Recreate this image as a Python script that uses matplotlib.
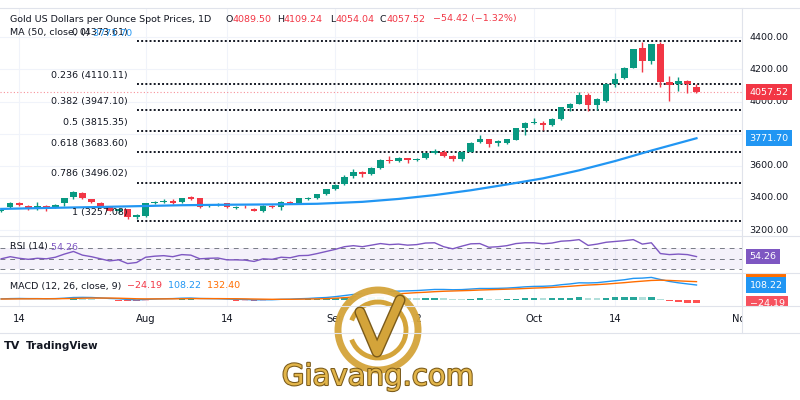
import numpy as np
import pandas as pd
import matplotlib
matplotlib.use("Agg")
import matplotlib.pyplot as plt
import matplotlib.patches as mpatches
import matplotlib.patheffects as pe

W, H = 800, 400

TEXT = "#131722"
GREEN = "#089981"
RED = "#f23645"
BLUE = "#2196f3"
PURPLE = "#7e57c2"
ORANGE = "#ff6d00"
GRID = "#f0f3fa"
SEP = "#e0e3eb"
GOLD = "#d4a43a"

# daily bars (weekdays), 10 Jul - 27 Oct 2025
dates = pd.bdate_range("2025-07-10", "2025-10-27")

opens = [3318, 3342, 3371, 3352, 3336, 3350, 3344, 3366, 3405, 3434,
         3392, 3371, 3346, 3320, 3330, 3284, 3290, 3367, 3376, 3382,
         3373, 3404, 3398, 3352, 3358, 3367, 3340, 3343, 3332, 3319,
         3350, 3342, 3377, 3371, 3396, 3398, 3423, 3454, 3485, 3537,
         3560, 3549, 3584, 3638, 3630, 3646, 3634, 3646, 3682, 3688,
         3662, 3641, 3688, 3750, 3765, 3740, 3744, 3761, 3834, 3866,
         3868, 3854, 3890, 3962, 3985, 4041, 3979, 4005, 4110, 4145,
         4211, 4331, 4254, 4356, 4124, 4108, 4125, 4089.50]
highs = [3332, 3372, 3376, 3358, 3372, 3354, 3362, 3402, 3442, 3440,
         3396, 3376, 3350, 3336, 3334, 3300, 3370, 3382, 3392, 3392,
         3402, 3412, 3402, 3362, 3368, 3370, 3350, 3354, 3338, 3354,
         3354, 3380, 3380, 3400, 3404, 3425, 3456, 3484, 3540, 3580,
         3566, 3590, 3640, 3664, 3652, 3650, 3650, 3682, 3706, 3698,
         3666, 3690, 3748, 3791, 3768, 3760, 3768, 3836, 3872, 3895,
         3876, 3896, 3966, 3990, 4060, 4056, 4022, 4116, 4179, 4218,
         4330, 4373, 4360, 4373, 4162, 4152, 4136, 4109.24]
lows = [3310, 3336, 3350, 3328, 3325, 3318, 3338, 3352, 3395, 3392,
        3366, 3342, 3316, 3308, 3272, 3270, 3284, 3360, 3366, 3364,
        3368, 3390, 3340, 3344, 3352, 3336, 3334, 3336, 3316, 3314,
        3336, 3326, 3360, 3364, 3390, 3394, 3420, 3450, 3482, 3526,
        3530, 3544, 3580, 3620, 3626, 3620, 3630, 3642, 3676, 3652,
        3628, 3632, 3684, 3740, 3718, 3722, 3736, 3758, 3792, 3858,
        3820, 3846, 3886, 3940, 3982, 3944, 3948, 4000, 4090, 4140,
        4206, 4186, 4236, 4089, 4004, 4066, 4052, 4054.04]
closes = [3326, 3366, 3356, 3337, 3350, 3341, 3355, 3398, 3437, 3398,
          3373, 3346, 3320, 3330, 3284, 3294, 3367, 3377, 3381, 3371,
          3398, 3394, 3346, 3356, 3361, 3342, 3342, 3341, 3319, 3350,
          3342, 3377, 3367, 3398, 3399, 3423, 3454, 3481, 3532, 3564,
          3548, 3586, 3636, 3630, 3646, 3634, 3642, 3678, 3692, 3661,
          3640, 3688, 3744, 3765, 3734, 3755, 3765, 3834, 3865, 3870,
          3854, 3890, 3964, 3985, 4041, 3979, 4016, 4110, 4141, 4207,
          4327, 4254, 4356, 4124, 4100, 4125, 4111.94, 4057.52]

# MA 50 at a few bars
ma_idx = [0, 5, 10, 15, 20, 25, 30, 35, 40, 44, 48, 52, 56, 60, 64, 68, 72, 75, 77]
ma_val = [3332, 3338, 3343, 3349, 3355, 3358, 3360, 3364, 3376, 3394,
          3418, 3448, 3484, 3522, 3572, 3630, 3695, 3741, 3771.70]

# Fibonacci retracement
fib_ratios = [0, 0.236, 0.382, 0.5, 0.618, 0.786, 1]
fib_prices = [4373.61, 4110.11, 3947.10, 3815.35, 3683.60, 3496.02, 3257.08]
fib_start = 15

rsi = [50, 54, 51, 49, 51, 50, 53, 59, 64, 57,
       54, 50, 46, 48, 41, 43, 53, 55, 56, 54,
       58, 57, 50, 51, 51.5, 48, 48, 47.5, 45, 50,
       49, 53, 52, 56, 56.5, 60, 64, 68, 73, 75,
       73, 76, 79, 77, 78, 76, 77, 80, 80.5, 73,
       69, 74, 78.5, 79, 72, 73, 75, 79, 80.5, 80.5,
       78.5, 80, 83.5, 84.5, 86.5, 75.5, 78, 81.5, 83, 84.5,
       86.5, 78, 80.5, 60, 58, 59, 58, 54.26]

macd = [8, 10, 11, 10, 10, 9, 10, 13, 18, 19,
        18, 15, 11, 9, 4, 1, 4, 7, 9, 10,
        13, 14, 11, 10, 9, 7, 5, 4, 1, 2,
        2, 5, 6, 9, 11, 15, 18, 24, 32, 40,
        44, 50, 57, 61, 64, 66, 68, 72, 76, 76,
        74, 75, 79, 83, 83, 84, 86, 90, 95, 98,
        99, 102, 110, 116, 124, 123, 125, 132, 139, 146,
        156, 158, 163, 148, 134, 124, 116, 108.216]
signal = [7, 7.5, 8, 8.5, 9, 9, 9, 10, 11, 13,
          14, 14, 14, 13, 11, 9, 8, 8, 8, 8.5,
          9, 10, 10, 10, 10, 9.5, 9, 8, 7, 6,
          5, 5, 5, 6, 7, 8, 10, 13, 17, 22,
          26, 31, 36, 41, 45, 49, 53, 56, 60, 63,
          65, 67, 69, 72, 74, 76, 78, 80, 83, 86,
          88, 91, 95, 99, 104, 108, 111, 115, 120, 125,
          131, 136, 141, 143, 141, 138, 135, 132.404]

# 3800 sits under the MA tag on the price scale, so it is not listed
price_ticks = [3200, 3400, 3600, 4000, 4200, 4400]
grid_ticks = [3200, 3400, 3600, 3800, 4000, 4200, 4400]
tick_dates = ["2025-07-14", "2025-08-01", "2025-08-14", "2025-09-01",
              "2025-09-12", "2025-10-01", "2025-10-14", "2025-11-03"]
tick_labels = ["14", "Aug", "14", "Sep", "12", "Oct", "14", "Nov"]


fig = plt.figure(figsize=(8, 4), dpi=100)
fig.patch.set_facecolor("white")


def px_axes(x0, y0, x1, y1, **kw):
    a = fig.add_axes([x0 / W, 1 - y1 / H, (x1 - x0) / W, (y1 - y0) / H], **kw)
    a.set_axis_off()
    return a


ax = px_axes(0, 8, 742, 236)
ax_rsi = px_axes(0, 236, 742, 273, sharex=ax)
ax_macd = px_axes(0, 273, 742, 306, sharex=ax)
ax_time = px_axes(0, 306, 742, 333, sharex=ax)
sc_main = px_axes(742, 8, 800, 236, sharey=ax)
sc_rsi = px_axes(742, 236, 800, 273, sharey=ax_rsi)
sc_macd = px_axes(742, 273, 800, 306, sharey=ax_macd)
ov = px_axes(0, 0, 800, 400)
ov.set_xlim(0, W)
ov.set_ylim(H, 0)
ov.set_zorder(10)

ax.set_xlim(-0.133, 82.04)
ax.set_ylim(3163.5, 4582)
ax_rsi.set_ylim(23, 93.4)
ax_macd.set_ylim(-43.3, 194.8)
for s in (sc_main, sc_rsi, sc_macd):
    s.set_xlim(0, 1)

x = np.arange(len(dates))
o, h, l, c = (np.array(v, dtype=float) for v in (opens, highs, lows, closes))

all_days = pd.bdate_range("2025-07-10", "2025-11-14")
tick_pos = all_days.get_indexer(pd.to_datetime(tick_dates))

# grid
for v in grid_ticks:
    ax.axhline(v, color=GRID, lw=0.8, zorder=0)
for t in tick_pos:
    for a in (ax, ax_rsi, ax_macd):
        a.axvline(t, color=GRID, lw=0.8, zorder=0)

# fibonacci levels
for r, p in zip(fib_ratios, fib_prices):
    ax.plot([fib_start, 83], [p, p], color=TEXT, lw=1.4, ls=(0, (1, 1.15)), zorder=1)
    ax.annotate("{:g} ({:.2f})".format(r, p), xy=(fib_start - 1, p), xytext=(0, 3),
                textcoords="offset points", ha="right", va="bottom",
                fontsize=6.8, color=TEXT, zorder=3)

# last price line
ax.axhline(c[-1], color=RED, lw=0.8, ls=(0, (1, 2)), alpha=0.55, zorder=1)

# candles
up = c >= o
col = np.where(up, GREEN, RED)
ax.vlines(x, l, h, colors=col, lw=1, zorder=2)
body = np.maximum(np.abs(c - o), 5)
ax.bar(x, body, bottom=np.minimum(o, c), width=0.72, color=col, lw=0, zorder=2)

# MA 50
ax.plot(ma_idx, ma_val, color=BLUE, lw=1.6, zorder=2)

# RSI
ax_rsi.axhspan(30, 70, color=PURPLE, alpha=0.08, lw=0)
for lv in (70, 50, 30):
    ax_rsi.axhline(lv, color="#787b86", lw=0.7, ls=(0, (5, 5)))
ax_rsi.plot(x, rsi, color=PURPLE, lw=1)

# MACD
m = np.array(macd)
sg = np.array(signal)
hist = m - sg
prev = np.concatenate([[hist[0]], hist[:-1]])
hcol = np.where(hist >= 0,
                np.where(hist >= prev, "#26a69a", "#b2dfdb"),
                np.where(hist < prev, "#ff5252", "#ffcdd2"))
ax_macd.bar(x, hist, width=0.72, color=hcol, lw=0)
ax_macd.plot(x, m, color=BLUE, lw=1)
ax_macd.plot(x, sg, color=ORANGE, lw=1)

# time axis labels
for t, lab in zip(tick_pos, tick_labels):
    ax_time.text(t, 0.5, lab, ha="center", va="center", fontsize=7.2,
                 color=TEXT, clip_on=True)

# right price scale
for v in price_ticks:
    sc_main.text(0.13, v, "{:.2f}".format(v), ha="left", va="center",
                 fontsize=6.8, color=TEXT, clip_on=True)


def tag(axis, y, s, fc, dy=0):
    return axis.annotate(s, xy=(0.13, y), xytext=(0, dy), textcoords="offset points",
                         ha="left", va="center", fontsize=6.8, color="white",
                         clip_on=True, annotation_clip=False, zorder=5,
                         bbox=dict(boxstyle="square,pad=0.35", fc=fc, ec="none"))


tag(sc_main, c[-1], "{:.2f}".format(c[-1]), RED)
tag(sc_main, ma_val[-1], "{:.2f}".format(ma_val[-1]), BLUE)
tag(sc_rsi, rsi[-1], "{:.2f}".format(rsi[-1]), PURPLE)
tag(sc_macd, sg[-1], "{:.2f}".format(sg[-1]), ORANGE, dy=7)
tag(sc_macd, m[-1], "{:.2f}".format(m[-1]), BLUE)
tag(sc_macd, hist[-1], "\u2212{:.2f}".format(abs(hist[-1])), "#f7525f")


# legends
def chain(x0, y0, parts, size=6.8):
    t = ov.text(x0, y0, parts[0][0], color=parts[0][1], fontsize=size, va="center", ha="left")
    for s, colr in parts[1:]:
        t = ov.annotate(s, xy=(1, 0.5), xycoords=t, va="center", ha="left",
                        color=colr, fontsize=size)
    return t


chg = c[-1] - c[-2]
pct = chg / c[-2] * 100
chain(10, 19, [("Gold US Dollars per Ounce Spot Prices, 1D", TEXT)])
chain(225, 19, [("O", TEXT), ("{:.2f}".format(o[-1]), RED)])
chain(277, 19, [("H", TEXT), ("{:.2f}".format(h[-1]), RED)])
chain(330, 19, [("L", TEXT), ("{:.2f}".format(l[-1]), RED)])
chain(380, 19, [("C", TEXT), ("{:.2f}".format(c[-1]), RED)])
chain(433, 19, [("\u2212{:.2f} (\u2212{:.2f}%)".format(abs(chg), abs(pct)), RED)])
chain(10, 33, [("MA (50, close, 0)", TEXT), (" {:.2f}".format(ma_val[-1]), BLUE)])
chain(10, 247, [("RSI (14)", TEXT), (" {:.2f}".format(rsi[-1]), PURPLE)])
chain(10, 286, [("MACD (12, 26, close, 9)", TEXT),
                ("  \u2212{:.2f}".format(abs(hist[-1])), RED),
                ("  {:.2f}".format(m[-1]), BLUE),
                ("  {:.2f}".format(sg[-1]), ORANGE)])

# pane separators
for yy in (8, 236, 273, 306, 333):
    ov.plot([0, W], [yy, yy], color=SEP, lw=0.8)
ov.plot([742, 742], [8, 333], color=SEP, lw=0.8)

# TradingView logo
ov.text(4, 346, "TV", fontsize=8, fontweight="bold", color=TEXT, va="center", ha="left")
ov.text(26, 346, "TradingView", fontsize=7.5, fontweight="semibold", color=TEXT,
        va="center", ha="left")

# watermark
ov.add_patch(mpatches.Circle((378, 330), 40, fc="white", ec=GOLD, lw=5, alpha=0.95))
ov.add_patch(mpatches.Arc((378, 330), 56, 56, theta1=200, theta2=520, ec=GOLD, lw=3.5))
ov.plot([360, 377, 400], [312, 352, 300], color=GOLD, lw=6, solid_capstyle="round",
        path_effects=[pe.Stroke(linewidth=8, foreground="#7a5a1a"), pe.Normal()])
ov.text(378, 377, "Giavang.com", fontsize=21, color="#e2b54a", ha="center", va="center",
        path_effects=[pe.withStroke(linewidth=1.5, foreground="#7a5a1a")])

fig.savefig("out.png", dpi=100)
